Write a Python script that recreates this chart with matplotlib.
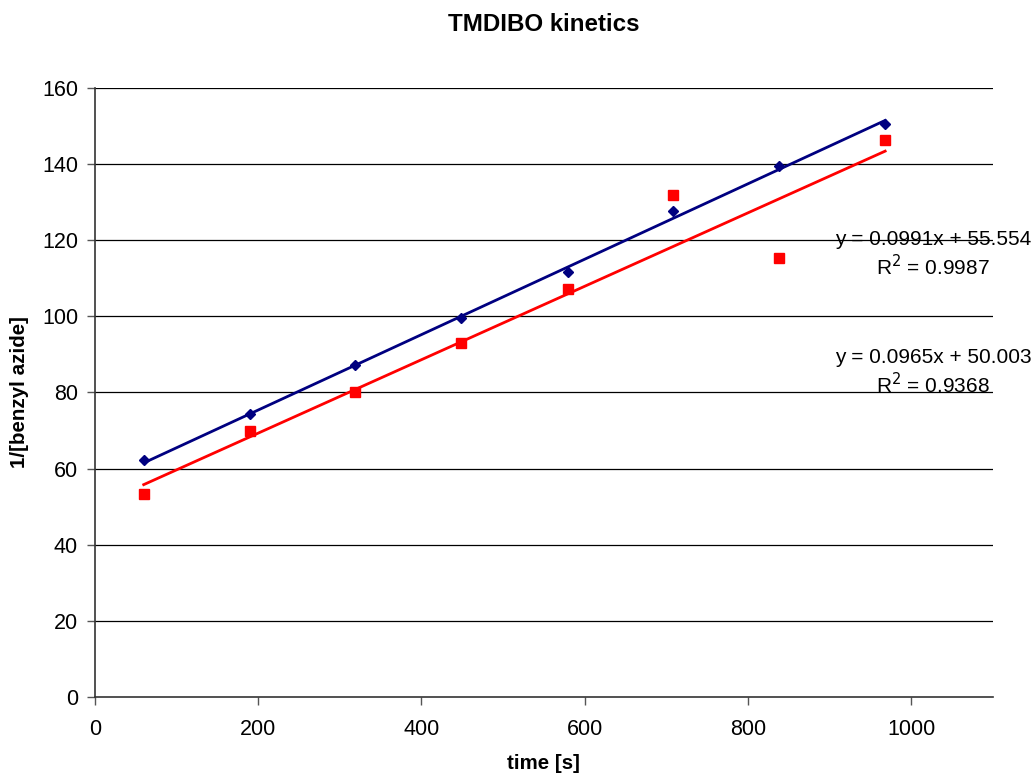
import numpy as np
import matplotlib
matplotlib.use("Agg")
import matplotlib.pyplot as plt

plt.rcParams['font.family'] = ['Liberation Sans', 'DejaVu Sans']

# measurement times [s]
time_s = [60, 190, 319, 449, 579, 708, 838, 968]
# 1/[benzyl azide] for the two runs
run_blue = [62.2, 74.3, 87.1, 99.7, 111.6, 127.6, 139.5, 150.6]
run_red = [53.3, 69.9, 80.1, 93.0, 107.2, 131.9, 115.3, 146.3]

# linear trendline coefficients (slope, intercept) and R^2
fit_blue = (0.0991, 55.554, 0.9987)
fit_red = (0.0965, 50.003, 0.9368)

y_ticks = [0, 20, 40, 60, 80, 100, 120, 140, 160]
x_ticks = [0, 200, 400, 600, 800, 1000]

fig = plt.figure(figsize=(10.34, 7.74), dpi=100)
ax = fig.add_axes([0.0916, 0.0995, 0.8687, 0.7868])

ax.set_xlim(0, 1100)
ax.set_ylim(0, 160)
ax.set_xticks(x_ticks)
ax.set_yticks(y_ticks)

for y in y_ticks[1:]:
    ax.axhline(y, color='black', lw=0.9, zorder=1)

xs = np.array([time_s[0], time_s[-1]])
ax.plot(xs, fit_blue[0] * xs + fit_blue[1], color='#000080', lw=2, zorder=2)
ax.plot(xs, fit_red[0] * xs + fit_red[1], color='#ff0000', lw=2, zorder=2)

ax.plot(time_s, run_blue, linestyle='none', marker='D', ms=5.5, color='#000080', zorder=3)
ax.plot(time_s, run_red, linestyle='none', marker='s', ms=6.5, color='#ff0000', zorder=3)

for spine in ['top', 'right']:
    ax.spines[spine].set_visible(False)
for spine in ['left', 'bottom']:
    ax.spines[spine].set_color('#333333')
    ax.spines[spine].set_linewidth(1.2)
ax.tick_params(direction='out', length=6, width=1, color='#555555',
               labelsize=15.5, pad=6)
ax.tick_params(axis='x', pad=10)

ax.set_title('TMDIBO kinetics', fontsize=17.4, fontweight='bold', pad=41)
ax.set_xlabel('time [s]', fontsize=14.8, fontweight='bold', labelpad=10)
ax.set_ylabel('1/[benzyl azide]', fontsize=14.8, fontweight='bold', labelpad=9)

# trendline equations
for fit, y_eq, y_r2 in [(fit_blue, 120.1, 113.0), (fit_red, 89.3, 82.0)]:
    ax.text(1027, y_eq, f'y = {fit[0]:.4f}x + {fit[1]:.3f}', ha='center', va='center',
            fontsize=15, clip_on=False)
    ax.text(1027, y_r2, f'R$^2$ = {fit[2]:.4f}', ha='center', va='center',
            fontsize=15, clip_on=False)

fig.savefig('out.png', dpi=100)
